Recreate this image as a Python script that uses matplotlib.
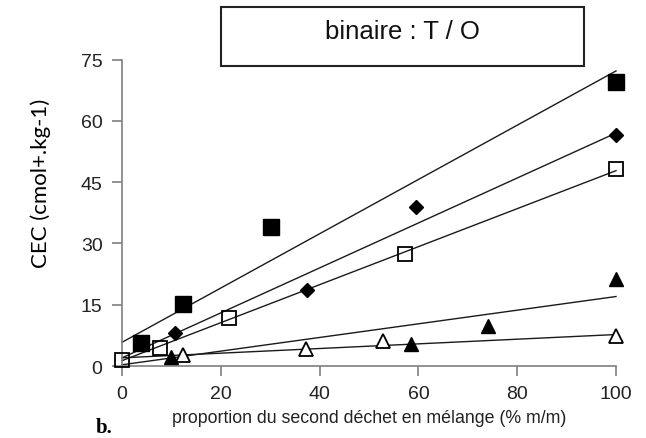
import matplotlib
matplotlib.use("Agg")
import matplotlib.pyplot as plt
from matplotlib.patches import Rectangle
import numpy as np

# ---- data ----
x_fill_sq = [3.8, 12.4, 30.2, 100]
y_fill_sq = [5.6, 15.1, 34.0, 69.5]
x_diam = [10.8, 37.5, 59.5, 100]
y_diam = [8.0, 18.6, 39.0, 56.5]
x_open_sq = [0, 7.6, 21.7, 57.3, 100]
y_open_sq = [1.5, 4.4, 11.8, 27.3, 48.2]
x_fill_tri = [10, 58.6, 74, 100]
y_fill_tri = [2.3, 5.3, 9.8, 21.2]
x_open_tri = [12.3, 37.2, 52.8, 100]
y_open_tri = [2.8, 4.1, 6.2, 7.4]

fit_x = [0, 100]
fit_fill_sq = [5.8, 72.2]
fit_diam = [2.0, 57.0]
fit_open_sq = [1.3, 47.8]
fit_fill_tri = [0.3, 17.0]
fit_open_tri = [2.0, 7.7]

xticks = [0, 20, 40, 60, 80, 100]
yticks = [0, 15, 30, 45, 60, 75]

fig = plt.figure(figsize=(6.46, 4.39), dpi=100)
ax = fig.add_axes([122/646, 1-367/439, (616-122)/646, (367-60.5)/439])

lc = '#1a1a1a'
for fy in [fit_fill_sq, fit_diam, fit_open_sq, fit_fill_tri, fit_open_tri]:
    ax.plot(fit_x, fy, color=lc, lw=1.0, clip_on=False, zorder=2)

ax.plot(x_fill_sq, y_fill_sq, 's', ms=12, color='black', mec='black', clip_on=False, zorder=3)
ax.plot(x_diam, y_diam, 'D', ms=7.5, color='black', mec='black', clip_on=False, zorder=3)
ax.plot(x_open_sq, y_open_sq, 's', ms=10.5, mfc='none', mec='black', mew=1.3, clip_on=False, zorder=3)
ax.plot(x_fill_tri, y_fill_tri, '^', ms=10, color='black', mec='black', clip_on=False, zorder=3)
ax.plot(x_open_tri, y_open_tri, '^', ms=10, mfc='white', mec='black', mew=1.3, clip_on=False, zorder=3)

ax.set_xlim(0, 100)
ax.set_ylim(0, 75)
ax.set_xticks(xticks)
ax.set_yticks(yticks)
for s in ['top', 'right']:
    ax.spines[s].set_visible(False)
for s in ['left', 'bottom']:
    ax.spines[s].set_color('#7f7f7f')
    ax.spines[s].set_linewidth(1.2)
ax.tick_params(axis='both', colors='#7f7f7f', width=1.2, length=7, pad=7,
               labelcolor='#222222', labelsize=14)
for lab in ax.get_xticklabels() + ax.get_yticklabels():
    lab.set_fontfamily('Liberation Sans')

ax.set_xlabel('proportion du second déchet en mélange (% m/m)', fontsize=12.8,
              family='Liberation Sans', color='#222222', labelpad=5)
fig.text(41/646, 1-183/439, 'CEC (cmol+.kg-1)', rotation=90, ha='center', va='center',
         fontsize=16, family='Lato', color='black')

fig.patches.append(Rectangle((221/646, 1-67/439), (584-221)/646, (67-8)/439,
                             transform=fig.transFigure, fill=False, ec='#222222', lw=1.5))
fig.text(402/646, 1-32/439, 'binaire : T / O', ha='center', va='center',
         fontsize=18.5, family='Liberation Sans', color='#111111')
fig.text(96/646, 1-428/439, 'b.', ha='left', va='center', fontsize=15,
         family='Liberation Serif', weight='bold')

fig.savefig('out.png', dpi=100)
